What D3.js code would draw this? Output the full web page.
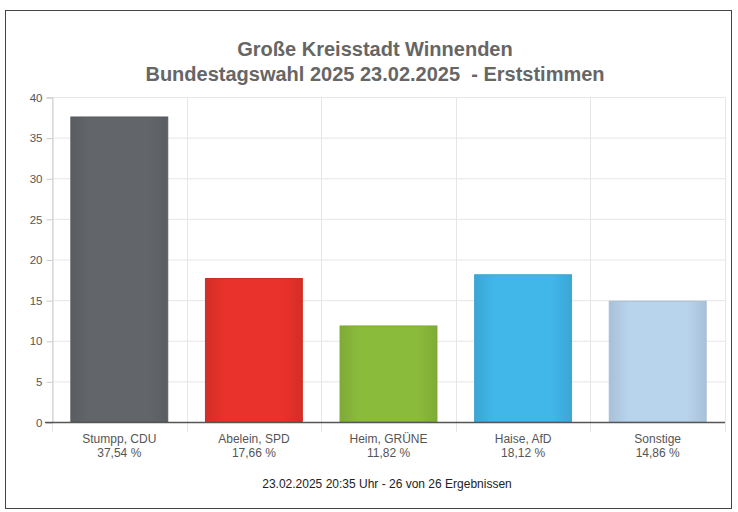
<!DOCTYPE html>
<html>
<head>
<meta charset="utf-8">
<script src="https://cdn.jsdelivr.net/npm/d3@7"></script>
<style>
  body { margin: 0; background: #fff; }
  svg { font-family: "Liberation Sans", Arial, sans-serif; }
  .grid line { stroke: #e6e6e6; }
  .tick text { fill: #555; font-size: 11.5px; }
</style>
</head>
<body>
<svg id="chart" width="738" height="512"></svg>
<script>
//////////////////// DATA ////////////////////
const candidates = ["Stumpp, CDU", "Abelein, SPD", "Heim, GRÜNE", "Haise, AfD", "Sonstige"];
const shares = [37.54, 17.66, 11.82, 18.12, 14.86];
const barColors = ["#62666b", "#e8322b", "#8bbb3b", "#41b6e9", "#b8d3ec"];
const yTicks = [0, 5, 10, 15, 20, 25, 30, 35, 40];

//////////////////// SIZES ////////////////////
const svg = d3.select("#chart");
const plot = { left: 52, right: 725, top: 97, bottom: 422 };

// frame
svg.append("rect")
    .attr("x", 5.5).attr("y", 10.5)
    .attr("width", 726).attr("height", 498)
    .attr("fill", "none")
    .attr("stroke", "#444")
    .attr("stroke-width", 1);

//////////////////// SCALES ////////////////////
const scaleX = d3.scaleBand()
    .domain(candidates)
    .range([plot.left, plot.right])
    .paddingInner(0.28)
    .paddingOuter(0.14);

const scaleY = d3.scaleLinear()
    .domain([0, 40])
    .range([plot.bottom, plot.top]);

//////////////////// GRID ////////////////////
const grid = svg.append("g").attr("class", "grid");

grid.selectAll(".hgrid")
    .data(yTicks.filter(d => d > 0))
    .join("line")
    .attr("x1", plot.left).attr("x2", plot.right)
    .attr("y1", d => scaleY(d) + 0.5).attr("y2", d => scaleY(d) + 0.5);

// vertical lines at category boundaries
const step = (plot.right - plot.left) / candidates.length;
grid.selectAll(".vgrid")
    .data(d3.range(candidates.length + 1))
    .join("line")
    .attr("x1", i => Math.round(plot.left + i * step) + 0.5)
    .attr("x2", i => Math.round(plot.left + i * step) + 0.5)
    .attr("y1", plot.top).attr("y2", plot.bottom + 10);

//////////////////// Y AXIS ////////////////////
const yAxis = d3.axisLeft(scaleY)
    .tickValues(yTicks)
    .tickSize(6)
    .tickPadding(4);

const yAxisGroup = svg.append("g")
    .attr("transform", `translate(${plot.left + 0.5}, 0.5)`)
    .call(yAxis);
yAxisGroup.select(".domain").attr("stroke", "#ccc");
yAxisGroup.selectAll(".tick line").attr("stroke", "#ccc");

//////////////////// BARS ////////////////////
const defs = svg.append("defs");
barColors.forEach((c, i) => {
    const g = defs.append("linearGradient")
        .attr("id", "grad" + i)
        .attr("x1", "0%").attr("x2", "100%");
    g.append("stop").attr("offset", "0%").attr("stop-color", d3.color(c).darker(0.25));
    g.append("stop").attr("offset", "20%").attr("stop-color", c);
    g.append("stop").attr("offset", "80%").attr("stop-color", c);
    g.append("stop").attr("offset", "100%").attr("stop-color", d3.color(c).darker(0.25));
});

svg.selectAll(".bar")
    .data(candidates)
    .join("rect")
    .attr("class", "bar")
    .attr("x", d => scaleX(d))
    .attr("width", scaleX.bandwidth())
    .attr("y", (d, i) => scaleY(shares[i]))
    .attr("height", (d, i) => scaleY(0) - scaleY(shares[i]))
    .attr("fill", (d, i) => `url(#grad${i})`)
    .attr("stroke", (d, i) => d3.color(barColors[i]).darker(0.3))
    .attr("stroke-width", 1);

// baseline
svg.append("line")
    .attr("x1", plot.left - 7).attr("x2", plot.right)
    .attr("y1", scaleY(0) + 0.5).attr("y2", scaleY(0) + 0.5)
    .attr("stroke", "#555")
    .attr("stroke-width", 1.5);

//////////////////// X LABELS ////////////////////
const xLabels = svg.append("g");
candidates.forEach((c, i) => {
    const cx = scaleX(c) + scaleX.bandwidth() / 2;
    const t = xLabels.append("text")
        .attr("text-anchor", "middle")
        .attr("fill", "#555")
        .attr("font-size", 12);
    t.append("tspan").attr("x", cx).attr("y", 443).text(c);
    t.append("tspan").attr("x", cx).attr("y", 457)
        .text(shares[i].toFixed(2).replace(".", ",") + " %");
});

//////////////////// TITLE ////////////////////
const title = svg.append("text")
    .attr("text-anchor", "middle")
    .attr("fill", "#666")
    .attr("font-size", 20)
    .attr("font-weight", "bold");
title.append("tspan").attr("x", 375).attr("y", 56).text("Große Kreisstadt Winnenden");
title.append("tspan").attr("x", 375).attr("y", 81).attr("xml:space", "preserve")
    .text("Bundestagswahl 2025 23.02.2025  - Erststimmen");

//////////////////// FOOTER ////////////////////
svg.append("text")
    .attr("x", 387).attr("y", 488)
    .attr("text-anchor", "middle")
    .attr("fill", "#222")
    .attr("font-size", 12)
    .text("23.02.2025 20:35 Uhr - 26 von 26 Ergebnissen");
</script>
</body>
</html>
